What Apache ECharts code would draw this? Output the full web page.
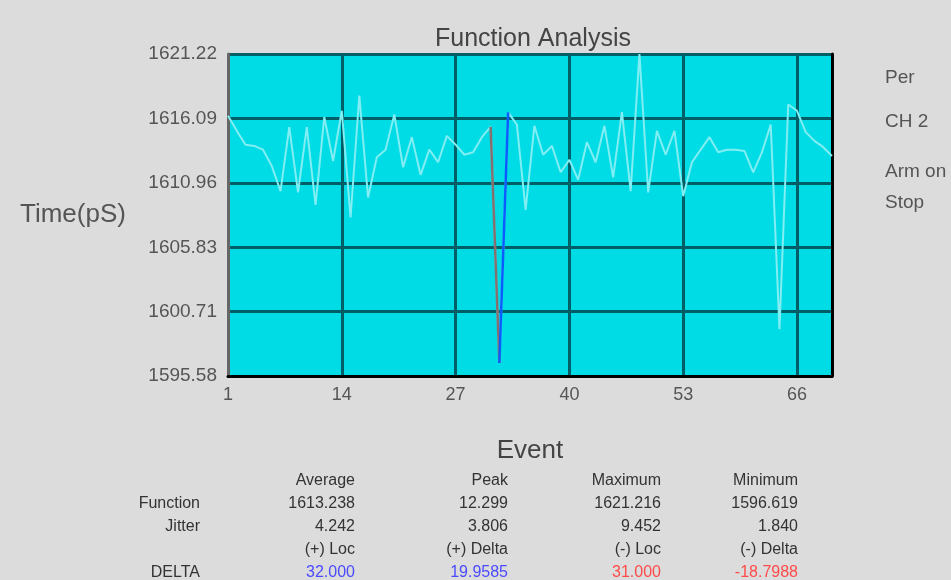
<!DOCTYPE html>
<html>
<head>
<meta charset="utf-8">
<script src="https://cdn.jsdelivr.net/npm/echarts@6/dist/echarts.min.js"></script>
<style>
  html, body { margin: 0; padding: 0; background: #dcdcdc; }
  #main { width: 951px; height: 580px; }
</style>
</head>
<body>
<div id="main"></div>
<script>
// measured time per event (pS)
var timeValues = [
  1616.3, 1615.1, 1614.0, 1613.9, 1613.6, 1612.3, 1610.3, 1615.4, 1610.2, 1615.4,
  1609.2, 1616.2, 1612.7, 1616.7, 1608.2, 1617.9, 1609.8, 1613.0, 1613.6, 1616.4,
  1612.2, 1614.6, 1611.6, 1613.6, 1612.6, 1614.7, 1614.0, 1613.2, 1613.4, 1614.6,
  1615.418, 1596.619, 1616.578, 1615.6, 1608.8, 1615.5, 1613.2, 1613.9, 1611.8, 1612.8,
  1611.2, 1614.2, 1612.6, 1615.5, 1611.4, 1616.6, 1610.3, 1621.216, 1610.2, 1615.1,
  1613.2, 1615.1, 1609.9, 1612.6, 1613.6, 1614.6, 1613.4, 1613.6, 1613.6, 1613.5,
  1611.8, 1613.4, 1615.6, 1599.3, 1617.2, 1616.7, 1615.0, 1614.3, 1613.8, 1613.1
];
var xTicks = [1, 14, 27, 40, 53, 66];
var yTicks = [1595.58, 1600.71, 1605.83, 1610.96, 1616.09, 1621.22];
var negDeltaEvents = [31, 32];
var posDeltaEvents = [32, 33];
var sideLabels = ['Per', 'CH 2', 'Arm on', 'Stop'];

var tableHeader = ['Average', 'Peak', 'Maximum', 'Minimum'];
var functionRow = ['1613.238', '12.299', '1621.216', '1596.619'];
var jitterRow = ['4.242', '3.806', '9.452', '1.840'];
var deltaHeader = ['(+) Loc', '(+) Delta', '(-) Loc', '(-) Delta'];
var deltaRow = ['32.000', '19.9585', '31.000', '-18.7988'];
var deltaColors = ['#4a4aff', '#4a4aff', '#ff4a4a', '#ff4a4a'];

function pairs(evts) {
  return evts.map(function (e) { return [e, timeValues[e - 1]]; });
}

var dom = document.getElementById('main');
var myChart = echarts.init(dom);
var option = null;

var fontMain = 'Liberation Sans, Arial, sans-serif';

// table text
var colRight = [355, 508, 661, 798];
var rowY = [481, 504, 527, 550, 573];
var tableRows = [
  { label: '', cells: tableHeader },
  { label: 'Function', cells: functionRow },
  { label: 'Jitter', cells: jitterRow },
  { label: '', cells: deltaHeader },
  { label: 'DELTA', cells: deltaRow, colors: deltaColors }
];
var graphics = [];
tableRows.forEach(function (row, r) {
  if (row.label) {
    graphics.push({
      type: 'text', x: 200, y: rowY[r],
      style: { text: row.label, align: 'right', verticalAlign: 'middle',
        fill: '#333', font: '16px ' + fontMain }
    });
  }
  row.cells.forEach(function (t, c) {
    graphics.push({
      type: 'text', x: colRight[c], y: rowY[r],
      style: { text: t, align: 'right', verticalAlign: 'middle',
        fill: row.colors ? row.colors[c] : '#333', font: '16px ' + fontMain }
    });
  });
});
var sideY = [78, 122, 172, 203];
sideLabels.forEach(function (t, i) {
  graphics.push({
    type: 'text', x: 885, y: sideY[i],
    style: { text: t, verticalAlign: 'middle', fill: '#555', font: '19px ' + fontMain }
  });
});
graphics.push({
  type: 'text', x: 20, y: 215,
  style: { text: 'Time(pS)', verticalAlign: 'middle', fill: '#555', font: '26px ' + fontMain }
});

option = {
  backgroundColor: '#dcdcdc',
  animation: false,
  title: {
    text: 'Function Analysis',
    left: 528, top: 22, textAlign: 'center',
    textStyle: { color: '#444', fontSize: 25, fontWeight: 'normal', fontFamily: fontMain }
  },
  grid: {
    left: 228, right: 119, top: 54, bottom: 204,
    containLabel: false, outerBoundsMode: 'none',
    show: true, backgroundColor: '#00dce6', borderWidth: 0
  },
  xAxis: {
    type: 'value', min: 1, max: 70,
    name: 'Event', nameLocation: 'middle', nameGap: 62,
    nameTextStyle: { color: '#444', fontSize: 26, fontFamily: fontMain },
    axisLine: { show: true, lineStyle: { color: '#000', width: 3 } },
    axisTick: { show: false, customValues: xTicks },
    axisLabel: { customValues: xTicks, color: '#555', fontSize: 18, margin: 10, fontFamily: fontMain },
    splitLine: { show: true, lineStyle: { color: '#005f66', width: 3 } }
  },
  yAxis: [{
    type: 'value', min: yTicks[0], max: yTicks[yTicks.length - 1],
    axisLine: { show: true, lineStyle: { color: '#666', width: 3 } },
    axisTick: { show: false, customValues: yTicks },
    axisLabel: {
      customValues: yTicks, color: '#555', fontSize: 19, margin: 11, fontFamily: fontMain,
      formatter: function (v) { return v.toFixed(2); }
    },
    splitLine: { show: true, lineStyle: { color: '#005f66', width: 3 } }
  }, {
    type: 'value', position: 'right', min: yTicks[0], max: yTicks[yTicks.length - 1],
    axisLine: { show: true, lineStyle: { color: '#000', width: 3 } },
    axisTick: { show: false }, axisLabel: { show: false }, splitLine: { show: false }
  }],
  graphic: graphics,
  series: [{
    type: 'line',
    data: pairs(timeValues.map(function (v, i) { return i + 1; })),
    symbol: 'none',
    lineStyle: { color: '#80eef2', width: 2 },
    z: 1
  }, {
    type: 'line',
    data: pairs(negDeltaEvents),
    symbol: 'none',
    lineStyle: { color: '#86706f', width: 2.5 },
    z: 3
  }, {
    type: 'line',
    data: pairs(posDeltaEvents),
    symbol: 'none',
    lineStyle: { color: '#0a5cff', width: 2.5 },
    z: 4
  }]
};
if (option && typeof option === "object") {
  myChart.setOption(option, true);
}
</script>
</body>
</html>
